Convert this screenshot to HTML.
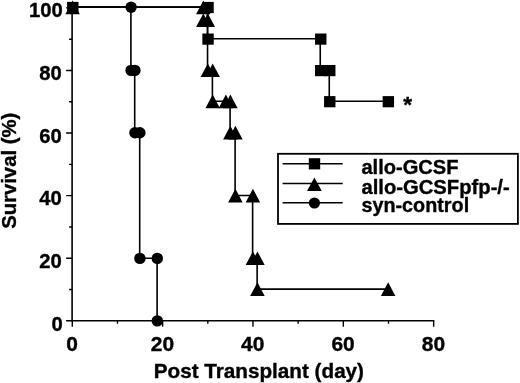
<!DOCTYPE html>
<html lang="en"><head><meta charset="utf-8"><title>Survival chart</title>
<style>html,body{margin:0;padding:0;background:#fff}body{width:520px;height:383px;overflow:hidden}svg{display:block}text{font-family:"Liberation Sans",Arial,Helvetica,sans-serif;font-weight:bold;fill:#000;stroke:#000;stroke-width:0.35px}</style>
</head><body>
<svg width="520" height="383" viewBox="0 0 520 383">
<rect width="520" height="383" fill="#fff"/>
<g stroke="#000" stroke-width="1.7" fill="none">
<path d="M72.1 7.2V321.4" stroke-width="1.6"/>
<path d="M71.5 320.7H434.36" stroke-width="1.5"/>
<path d="M72.1 320.8h-6M72.1 289.51h-3M72.1 258.22h-6M72.1 226.93h-3M72.1 195.64h-6M72.1 164.35h-3M72.1 133.06h-6M72.1 101.77h-3M72.1 70.48h-6M72.1 39.19h-3M72.1 7.9h-6M72.3 320.7v6M117.47 320.7v3M162.64 320.7v6M207.81 320.7v3M252.98 320.7v6M298.15 320.7v3M343.32 320.7v6M388.49 320.7v3M433.66 320.7v6" stroke-width="1.4"/>
</g>
<g stroke="#000" stroke-width="1.6" fill="none" stroke-linejoin="miter">
<polyline points="72.3,7.1 130.9,7.1 130.9,70.2 134.7,70.2 134.7,132.6 139.7,132.6 139.7,258.2 157.1,258.2 157.1,320.7"/>
<polyline points="72.3,7.1 203.03,7.1 207.54,7.1 207.54,20.2 207.54,70.2 212.4,70.2 212.4,101.3 230.08,101.3 230.08,132.6 235.1,132.6 235.1,195.5 252.62,195.5 252.62,258.2 257.13,258.2 257.13,289.1 387.86,289.1"/>
<polyline points="72.3,7.1 207.54,7.1 207.54,38.7 320.24,38.7 320.24,70.2 329.26,70.2 329.26,101.3 387.86,101.3"/>
</g>
<g fill="#000">
<circle cx="131.1" cy="7.3" r="5.7"/>
<circle cx="131.1" cy="70.4" r="5.7"/>
<circle cx="134.9" cy="70.4" r="5.7"/>
<circle cx="134.9" cy="132.8" r="5.7"/>
<circle cx="139.9" cy="132.8" r="5.7"/>
<circle cx="139.9" cy="258.4" r="5.7"/>
<circle cx="157.3" cy="258.4" r="5.7"/>
<circle cx="157.3" cy="320.9" r="5.7"/>
<path d="M72.6 0.6L79.85 14.3H65.35Z"/>
<path d="M203.33 0.6L210.58 14.3H196.08Z"/>
<path d="M203.33 13.4L210.58 27.1H196.08Z"/>
<path d="M207.84 13.4L215.09 27.1H200.59Z"/>
<path d="M207.84 63.4L215.09 77.1H200.59Z"/>
<path d="M212.7 63.4L219.95 77.1H205.45Z"/>
<path d="M212.7 94.5L219.95 108.2H205.45Z"/>
<path d="M225.87 94.5L233.12 108.2H218.62Z"/>
<path d="M230.38 94.5L237.63 108.2H223.13Z"/>
<path d="M230.38 125.8L237.63 139.5H223.13Z"/>
<path d="M235.4 125.8L242.65 139.5H228.15Z"/>
<path d="M235.4 188.7L242.65 202.4H228.15Z"/>
<path d="M252.92 188.7L260.17 202.4H245.67Z"/>
<path d="M252.92 251.4L260.17 265.1H245.67Z"/>
<path d="M257.43 251.4L264.68 265.1H250.18Z"/>
<path d="M257.43 282.3L264.68 296H250.18Z"/>
<path d="M388.16 282.3L395.41 296H380.91Z"/>
<rect x="67.1" y="1.9" width="11.4" height="11.2"/>
<rect x="202.34" y="1.9" width="11.4" height="11.2"/>
<rect x="202.34" y="33.5" width="11.4" height="11.2"/>
<rect x="315.04" y="33.5" width="11.4" height="11.2"/>
<rect x="315.04" y="65" width="11.4" height="11.2"/>
<rect x="324.06" y="65" width="11.4" height="11.2"/>
<rect x="324.06" y="96.1" width="11.4" height="11.2"/>
<rect x="382.66" y="96.1" width="11.4" height="11.2"/>
</g>
<text transform="translate(62.7 330.8) scale(1.035 1)" font-size="19.6px" text-anchor="end">0</text>
<text transform="translate(61.7 267.72) scale(1.035 1)" font-size="19.6px" text-anchor="end">20</text>
<text transform="translate(61.7 205.14) scale(1.035 1)" font-size="19.6px" text-anchor="end">40</text>
<text transform="translate(61.7 142.56) scale(1.035 1)" font-size="19.6px" text-anchor="end">60</text>
<text transform="translate(61.7 79.98) scale(1.035 1)" font-size="19.6px" text-anchor="end">80</text>
<text transform="translate(62.8 16.6) scale(1.035 1)" font-size="19.6px" text-anchor="end">100</text>
<text transform="translate(72.1 350.6) scale(1.07 1)" font-size="19.6px" text-anchor="middle">0</text>
<text transform="translate(162.44 350.6) scale(1.07 1)" font-size="19.6px" text-anchor="middle">20</text>
<text transform="translate(252.78 350.6) scale(1.07 1)" font-size="19.6px" text-anchor="middle">40</text>
<text transform="translate(343.12 350.6) scale(1.07 1)" font-size="19.6px" text-anchor="middle">60</text>
<text transform="translate(433.46 350.6) scale(1.07 1)" font-size="19.6px" text-anchor="middle">80</text>
<text transform="translate(258.9 377.6) scale(1.05 1)" font-size="19.7px" text-anchor="middle">Post Transplant (day)</text>
<text transform="translate(15.9 170.8) rotate(-90) scale(1.03 1)" font-size="19.7px" text-anchor="middle">Survival (%)</text>
<text transform="translate(407.6 112.1) scale(1 1)" font-size="22.6px" text-anchor="middle">*</text>
<rect x="278" y="153.8" width="239.9" height="70.1" fill="#fff" stroke="#000" stroke-width="1.8"/>
<g stroke="#000" stroke-width="1.55"><path d="M282.6 163.8H342.7M282.6 183.4H342.7M282.6 202.8H342.7"/></g>
<rect x="308.8" y="158.2" width="11.4" height="11.2"/>
<path d="M314.4 177.4L321.8 190.9H307Z"/>
<circle cx="314.4" cy="203" r="5.6"/>
<text transform="translate(361.4 173.6) scale(1.005 1)" font-size="20px" text-anchor="start">allo-GCSF</text>
<text transform="translate(361.4 194.2) scale(1.012 1)" font-size="20px" text-anchor="start">allo-GCSFpfp-/-</text>
<text transform="translate(361.4 212.2) scale(0.99 1)" font-size="20px" text-anchor="start">syn-control</text>
</svg>
</body></html>
